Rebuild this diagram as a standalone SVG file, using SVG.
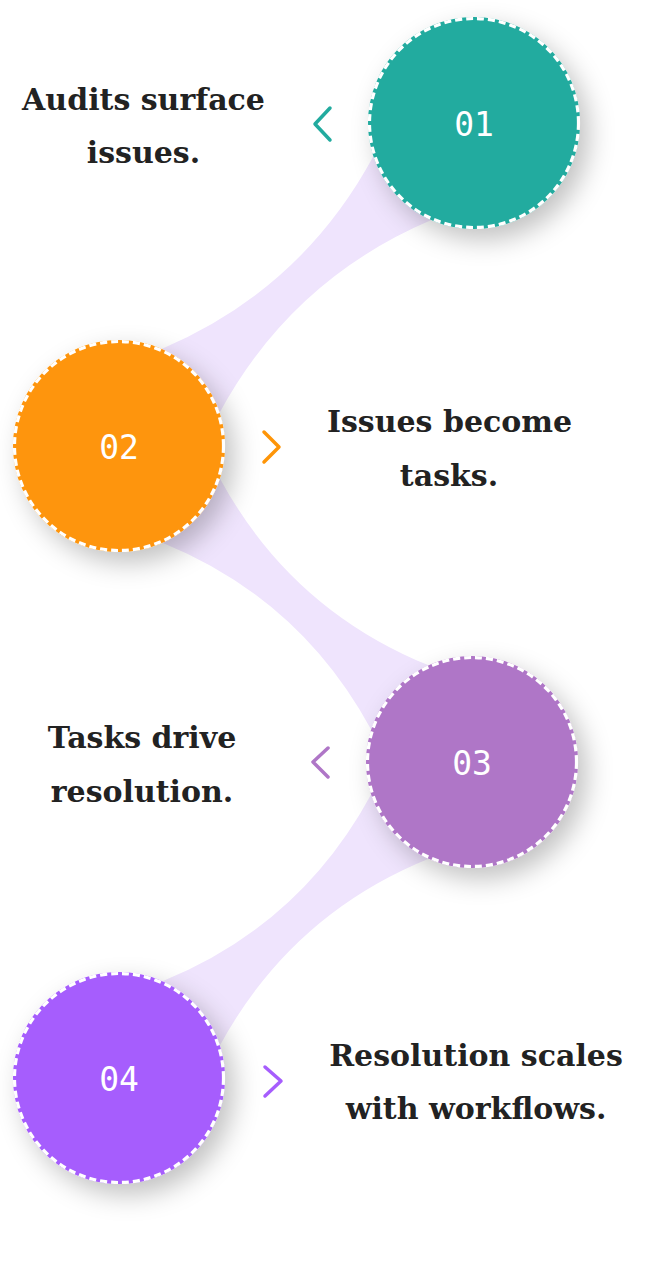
<svg xmlns="http://www.w3.org/2000/svg" width="670" height="1278" viewBox="0 0 670 1278">
  <style>
    .band { fill: #EFE4FD; }
    .num { font-family: "DejaVu Sans Mono", "Liberation Mono", monospace; font-size: 33px; fill: #FFFFFF; text-anchor: middle; dominant-baseline: central; }
    .lbl { font-family: "DejaVu Serif", "Liberation Serif", serif; font-weight: 700; font-size: 30px; fill: #222222; text-anchor: middle; }
    .ring { fill: none; stroke: #FFFFFF; stroke-width: 3.2; stroke-dasharray: 7 4; }
    .chev { fill: none; stroke-width: 3.5; stroke-linecap: round; stroke-linejoin: round; }
  </style>
  <defs>
    <filter id="shadow" x="-40%" y="-40%" width="190%" height="190%">
      <feDropShadow dx="9" dy="11" stdDeviation="13" flood-color="#000000" flood-opacity="0.24"/>
    </filter>
  </defs>
  <rect width="670" height="1278" fill="#FFFFFF"/>

  <g id="connectors">
    <path class="band" d="M 373.4,156.3 Q 301.2,289.7 161.6,348.9 L 219.6,412.7 Q 291.8,279.3 431.4,220.1 Z"/>
    <path class="band" d="M 219.9,478.4 Q 290.8,609.2 428.6,665.3 L 371.1,729.6 Q 300.2,598.8 162.4,542.7 Z"/>
    <path class="band" d="M 371.1,794.4 Q 300.2,925.2 162.4,981.3 L 219.9,1045.6 Q 290.8,914.8 428.6,858.7 Z"/>
  </g>

  <g id="node1">
    <circle cx="474" cy="123" r="106" fill="#22AB9F" filter="url(#shadow)"/>
    <circle class="ring" cx="474" cy="123" r="104.5"/>
    <text class="num" x="474" y="124">01</text>
    <polyline class="chev" stroke="#22AB9F" points="330,108 315,124 330,140"/>
    <text class="lbl" x="143.5" y="110">Audits surface</text>
    <text class="lbl" x="143.5" y="163">issues.</text>
  </g>

  <g id="node2">
    <circle cx="119" cy="446" r="106" fill="#FE9508" filter="url(#shadow)"/>
    <circle class="ring" cx="119" cy="446" r="104.5"/>
    <text class="num" x="119" y="447">02</text>
    <polyline class="chev" stroke="#FE9508" points="264,432 279,447 264,462"/>
    <text class="lbl" x="449.5" y="432">Issues become</text>
    <text class="lbl" x="449" y="486">tasks.</text>
  </g>

  <g id="node3">
    <circle cx="472" cy="762" r="106" fill="#AF76C7" filter="url(#shadow)"/>
    <circle class="ring" cx="472" cy="762" r="104.5"/>
    <text class="num" x="472" y="763">03</text>
    <polyline class="chev" stroke="#AF76C7" points="328,748 313,762 328,777"/>
    <text class="lbl" x="142" y="748">Tasks drive</text>
    <text class="lbl" x="142" y="802">resolution.</text>
  </g>

  <g id="node4">
    <circle cx="119" cy="1078" r="106" fill="#A65DFD" filter="url(#shadow)"/>
    <circle class="ring" cx="119" cy="1078" r="104.5"/>
    <text class="num" x="119" y="1079">04</text>
    <polyline class="chev" stroke="#A65DFD" points="265,1067 281,1081 265,1096"/>
    <text class="lbl" x="476" y="1066">Resolution scales</text>
    <text class="lbl" x="476" y="1119">with workflows.</text>
  </g>
</svg>
